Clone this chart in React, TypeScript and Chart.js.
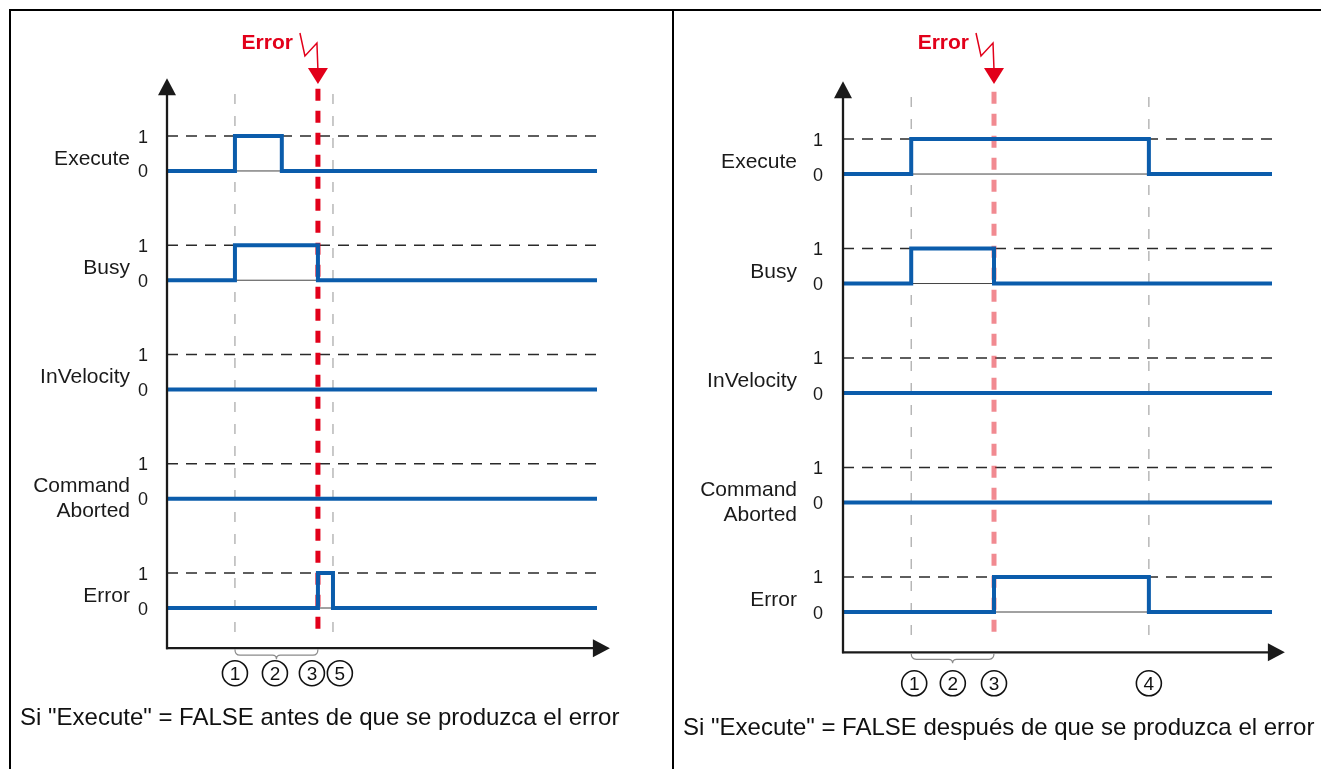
import React, { useEffect, useRef } from "react";
import { Chart, registerables } from "chart.js";

Chart.register(...registerables);

const FONT = '"Liberation Sans", Arial, Helvetica, sans-serif';

// ---------- data ----------
const SIGNAL_NAMES: string[][] = [["Execute"], ["Busy"], ["InVelocity"], ["Command", "Aborted"], ["Error"]];
const LEVEL_TICKS = ["0", "1"];
const ERROR_TITLE = "Error";

// Left: "Execute" = FALSE before the error occurs
const L_EXECUTE_T = [0, 15.8, 26.7, 100];
const L_EXECUTE_V = [0, 1, 0, 0];
const L_BUSY_T = [0, 15.8, 35.1, 100];
const L_BUSY_V = [0, 1, 0, 0];
const L_INVEL_T = [0, 100];
const L_INVEL_V = [0, 0];
const L_CMDAB_T = [0, 100];
const L_CMDAB_V = [0, 0];
const L_ERROR_T = [0, 35.1, 38.6, 100];
const L_ERROR_V = [0, 1, 0, 0];
const L_EVENT_T = [15.8, 38.6];
const L_ERROR_EVENT_T = 35.1;
const L_MARK_LABELS = ["1", "2", "3", "5"];
const L_MARK_T = [15.8, 25.1, 33.7, 40.2];
const L_BRACE_T = [15.8, 35.1];
const L_CAPTION = 'Si "Execute" = FALSE antes de que se produzca el error';

// Right: "Execute" = FALSE after the error occurs
const R_EXECUTE_T = [0, 15.9, 71.3, 100];
const R_EXECUTE_V = [0, 1, 0, 0];
const R_BUSY_T = [0, 15.9, 35.2, 100];
const R_BUSY_V = [0, 1, 0, 0];
const R_INVEL_T = [0, 100];
const R_INVEL_V = [0, 0];
const R_CMDAB_T = [0, 100];
const R_CMDAB_V = [0, 0];
const R_ERROR_T = [0, 35.2, 71.3, 100];
const R_ERROR_V = [0, 1, 0, 0];
const R_EVENT_T = [15.9, 71.3];
const R_ERROR_EVENT_T = 35.2;
const R_MARK_LABELS = ["1", "2", "3", "4"];
const R_MARK_T = [16.6, 25.6, 35.2, 71.3];
const R_BRACE_T = [15.9, 35.2];
const R_CAPTION = 'Si "Execute" = FALSE después de que se produzca el error';

// ---------- layout constants ----------
const BAND = 3.125; // distance between signal baselines (in level units)
const Y_MAX = 4 * BAND + 1;
const AXIS_BOTTOM = -1.15;
const AXIS_TOP = 15.15;
const AXIS_RIGHT = 103;
const VLINE_TOP_GRAY = 14.7;
const VLINE_TOP_RED = 14.85;
const VLINE_BOTTOM = -0.83;

const BLUE = "#0b5cab";

type Panel = {
  T: number[][];
  V: number[][];
  eventT: number[];
  errorT: number;
  markLabels: string[];
  markT: number[];
  braceT: number[];
  caption: string;
  left: number;
  width: number;
  padding: { left: number; right: number; top: number; bottom: number };
  tickOffset: number;
  labelOffset: number;
  markDy: number;
  captionX: number;
  captionY: number;
  errColor: string;
};

const HEIGHT = 769;

const PANELS: Panel[] = [
  {
    T: [L_EXECUTE_T, L_BUSY_T, L_INVEL_T, L_CMDAB_T, L_ERROR_T],
    V: [L_EXECUTE_V, L_BUSY_V, L_INVEL_V, L_CMDAB_V, L_ERROR_V],
    eventT: L_EVENT_T,
    errorT: L_ERROR_EVENT_T,
    markLabels: L_MARK_LABELS,
    markT: L_MARK_T,
    braceT: L_BRACE_T,
    caption: L_CAPTION,
    left: 0,
    width: 672,
    padding: { left: 167, right: 75, top: 136, bottom: 161 },
    tickOffset: 24,
    labelOffset: 37,
    markDy: 25,
    captionX: 20,
    captionY: 725,
    errColor: "#e2001a",
  },
  {
    T: [R_EXECUTE_T, R_BUSY_T, R_INVEL_T, R_CMDAB_T, R_ERROR_T],
    V: [R_EXECUTE_V, R_BUSY_V, R_INVEL_V, R_CMDAB_V, R_ERROR_V],
    eventT: R_EVENT_T,
    errorT: R_ERROR_EVENT_T,
    markLabels: R_MARK_LABELS,
    markT: R_MARK_T,
    braceT: R_BRACE_T,
    caption: R_CAPTION,
    left: 674,
    width: 647,
    padding: { left: 169, right: 49, top: 139, bottom: 157 },
    tickOffset: 25,
    labelOffset: 46,
    markDy: 31,
    captionX: 9,
    captionY: 735,
    errColor: "rgba(232, 60, 72, 0.6)",
  },
];

const baseOf = (i: number) => (SIGNAL_NAMES.length - 1 - i) * BAND;

function makeOverlay(p: Panel) {
  return {
    id: "overlay",
    afterDraw(chart: any) {
      const ctx = chart.ctx as CanvasRenderingContext2D;
      const xs = chart.scales.x;
      const ys = chart.scales.y;
      const X = (v: number) => xs.getPixelForValue(v);
      const Y = (v: number) => ys.getPixelForValue(v);
      ctx.save();

      // axes with arrows
      const x0 = X(0);
      const yAx = Y(AXIS_BOTTOM);
      const yTip = Y(AXIS_TOP);
      const xTip = X(AXIS_RIGHT);
      ctx.strokeStyle = "#1a1a1a";
      ctx.fillStyle = "#1a1a1a";
      ctx.lineWidth = 2.3;
      ctx.beginPath();
      ctx.moveTo(x0, yAx + 1);
      ctx.lineTo(x0, yTip + 12);
      ctx.stroke();
      ctx.beginPath();
      ctx.moveTo(x0, yTip);
      ctx.lineTo(x0 - 9, yTip + 17);
      ctx.lineTo(x0 + 9, yTip + 17);
      ctx.closePath();
      ctx.fill();
      ctx.beginPath();
      ctx.moveTo(x0 - 1, yAx);
      ctx.lineTo(xTip - 12, yAx);
      ctx.stroke();
      ctx.beginPath();
      ctx.moveTo(xTip, yAx);
      ctx.lineTo(xTip - 17, yAx - 9);
      ctx.lineTo(xTip - 17, yAx + 9);
      ctx.closePath();
      ctx.fill();

      // level ticks and signal names
      ctx.fillStyle = "#1a1a1a";
      SIGNAL_NAMES.forEach((lines, i) => {
        const b = baseOf(i);
        ctx.font = `18px ${FONT}`;
        ctx.textAlign = "center";
        ctx.textBaseline = "alphabetic";
        LEVEL_TICKS.forEach((t, k) => {
          ctx.fillText(t, x0 - p.tickOffset, Y(b + k) + 6.5);
        });
        ctx.font = `21px ${FONT}`;
        ctx.textAlign = "right";
        const y0 = Y(b);
        if (lines.length === 1) {
          ctx.fillText(lines[0], x0 - p.labelOffset, y0 - 6);
        } else {
          ctx.fillText(lines[0], x0 - p.labelOffset, y0 - 7);
          ctx.fillText(lines[1], x0 - p.labelOffset, y0 + 18);
        }
      });

      // brace under the time axis
      const bx1 = X(p.braceT[0]);
      const bx2 = X(p.braceT[1]);
      const bc = (bx1 + bx2) / 2;
      const by = yAx + 1;
      ctx.strokeStyle = "#8a8a8a";
      ctx.lineWidth = 1.2;
      ctx.beginPath();
      ctx.moveTo(bx1, by);
      ctx.quadraticCurveTo(bx1, by + 6, bx1 + 5, by + 6);
      ctx.lineTo(bc - 4, by + 6);
      ctx.quadraticCurveTo(bc, by + 6, bc, by + 10);
      ctx.quadraticCurveTo(bc, by + 6, bc + 4, by + 6);
      ctx.lineTo(bx2 - 5, by + 6);
      ctx.quadraticCurveTo(bx2, by + 6, bx2, by);
      ctx.stroke();

      // circled numbers
      const my = yAx + p.markDy;
      p.markT.forEach((t, k) => {
        const cx = X(t);
        ctx.fillStyle = "#ffffff";
        ctx.strokeStyle = "#111";
        ctx.lineWidth = 1.6;
        ctx.beginPath();
        ctx.arc(cx, my, 12.5, 0, Math.PI * 2);
        ctx.fill();
        ctx.stroke();
        ctx.fillStyle = "#111";
        ctx.font = `19px ${FONT}`;
        ctx.textAlign = "center";
        ctx.textBaseline = "alphabetic";
        ctx.fillText(p.markLabels[k], cx, my + 7);
      });

      // error arrow with lightning bolt
      const ex = X(p.errorT);
      const red = "#e2001a";
      ctx.strokeStyle = red;
      ctx.fillStyle = red;
      ctx.lineWidth = 1.5;
      ctx.beginPath();
      ctx.moveTo(ex - 18, 33);
      ctx.lineTo(ex - 13, 56);
      ctx.lineTo(ex - 1, 43);
      ctx.lineTo(ex, 70);
      ctx.stroke();
      ctx.beginPath();
      ctx.moveTo(ex - 10, 68);
      ctx.lineTo(ex + 10, 68);
      ctx.lineTo(ex, 84);
      ctx.closePath();
      ctx.fill();
      ctx.font = `bold 21px ${FONT}`;
      ctx.textAlign = "right";
      ctx.fillText(ERROR_TITLE, ex - 25, 49);

      // caption
      ctx.fillStyle = "#111";
      ctx.font = `24px ${FONT}`;
      ctx.textAlign = "left";
      ctx.fillText(p.caption, p.captionX, p.captionY);

      ctx.restore();
    },
  };
}

function buildDatasets(p: Panel) {
  const ds: any[] = [];
  // signals (top)
  p.T.forEach((ts, i) => {
    const b = baseOf(i);
    ds.push({
      data: ts.map((t, k) => ({ x: t, y: b + p.V[i][k] })),
      borderColor: BLUE,
      borderWidth: 4,
      stepped: "before",
      pointRadius: 0,
      clip: false,
      order: 0,
      borderCapStyle: "butt",
      borderJoinStyle: "miter",
    });
  });
  // thin baselines
  p.T.forEach((ts, i) => {
    const b = baseOf(i);
    ds.push({
      data: [
        { x: ts[0], y: b },
        { x: ts[ts.length - 1], y: b },
      ],
      borderColor: "#444",
      borderWidth: 1,
      pointRadius: 0,
      clip: false,
      order: 1,
    });
  });
  // error event line
  ds.push({
    data: [
      { x: p.errorT, y: VLINE_TOP_RED },
      { x: p.errorT, y: VLINE_BOTTOM },
    ],
    borderColor: p.errColor,
    borderWidth: 5,
    borderDash: [12, 10],
    pointRadius: 0,
    clip: false,
    order: 2,
  });
  // gray event lines
  p.eventT.forEach((t) => {
    ds.push({
      data: [
        { x: t, y: VLINE_TOP_GRAY },
        { x: t, y: VLINE_BOTTOM },
      ],
      borderColor: "#a5a5a5",
      borderWidth: 1.2,
      borderDash: [10, 12],
      pointRadius: 0,
      clip: false,
      order: 3,
    });
  });
  // level-1 dashed references
  p.T.forEach((ts, i) => {
    const b = baseOf(i);
    ds.push({
      data: [
        { x: ts[0], y: b + 1 },
        { x: ts[ts.length - 1], y: b + 1 },
      ],
      borderColor: "#2a2a2a",
      borderWidth: 1.5,
      borderDash: [11, 8],
      pointRadius: 0,
      clip: false,
      order: 4,
    });
  });
  return ds;
}

function PanelChart({ p }: { p: Panel }) {
  const ref = useRef<HTMLCanvasElement | null>(null);
  useEffect(() => {
    if (!ref.current) return;
    const chart = new Chart(ref.current, {
      type: "line",
      data: { datasets: buildDatasets(p) },
      options: {
        animation: false,
        responsive: false,
        devicePixelRatio: 1,
        layout: { padding: p.padding },
        scales: {
          x: { type: "linear", min: 0, max: 100, display: false },
          y: { type: "linear", min: 0, max: Y_MAX, display: false },
        },
        plugins: { legend: { display: false }, tooltip: { enabled: false } },
        elements: { point: { radius: 0 }, line: { tension: 0 } },
      },
      plugins: [makeOverlay(p)],
    } as any);
    return () => chart.destroy();
  }, [p]);
  return (
    <canvas
      ref={ref}
      width={p.width}
      height={HEIGHT}
      style={{ position: "absolute", left: p.left, top: 0, width: p.width, height: HEIGHT }}
    />
  );
}

export default function App() {
  return (
    <div style={{ position: "fixed", left: 0, top: 0, width: 1321, height: HEIGHT, background: "#fff", overflow: "hidden" }}>
      <PanelChart p={PANELS[0]} />
      <PanelChart p={PANELS[1]} />
      <div style={{ position: "absolute", left: 9, top: 9, width: 1312, height: 2, background: "#000" }} />
      <div style={{ position: "absolute", left: 9, top: 9, width: 2, height: HEIGHT - 9, background: "#000" }} />
      <div style={{ position: "absolute", left: 672, top: 9, width: 2, height: HEIGHT - 9, background: "#000" }} />
    </div>
  );
}
